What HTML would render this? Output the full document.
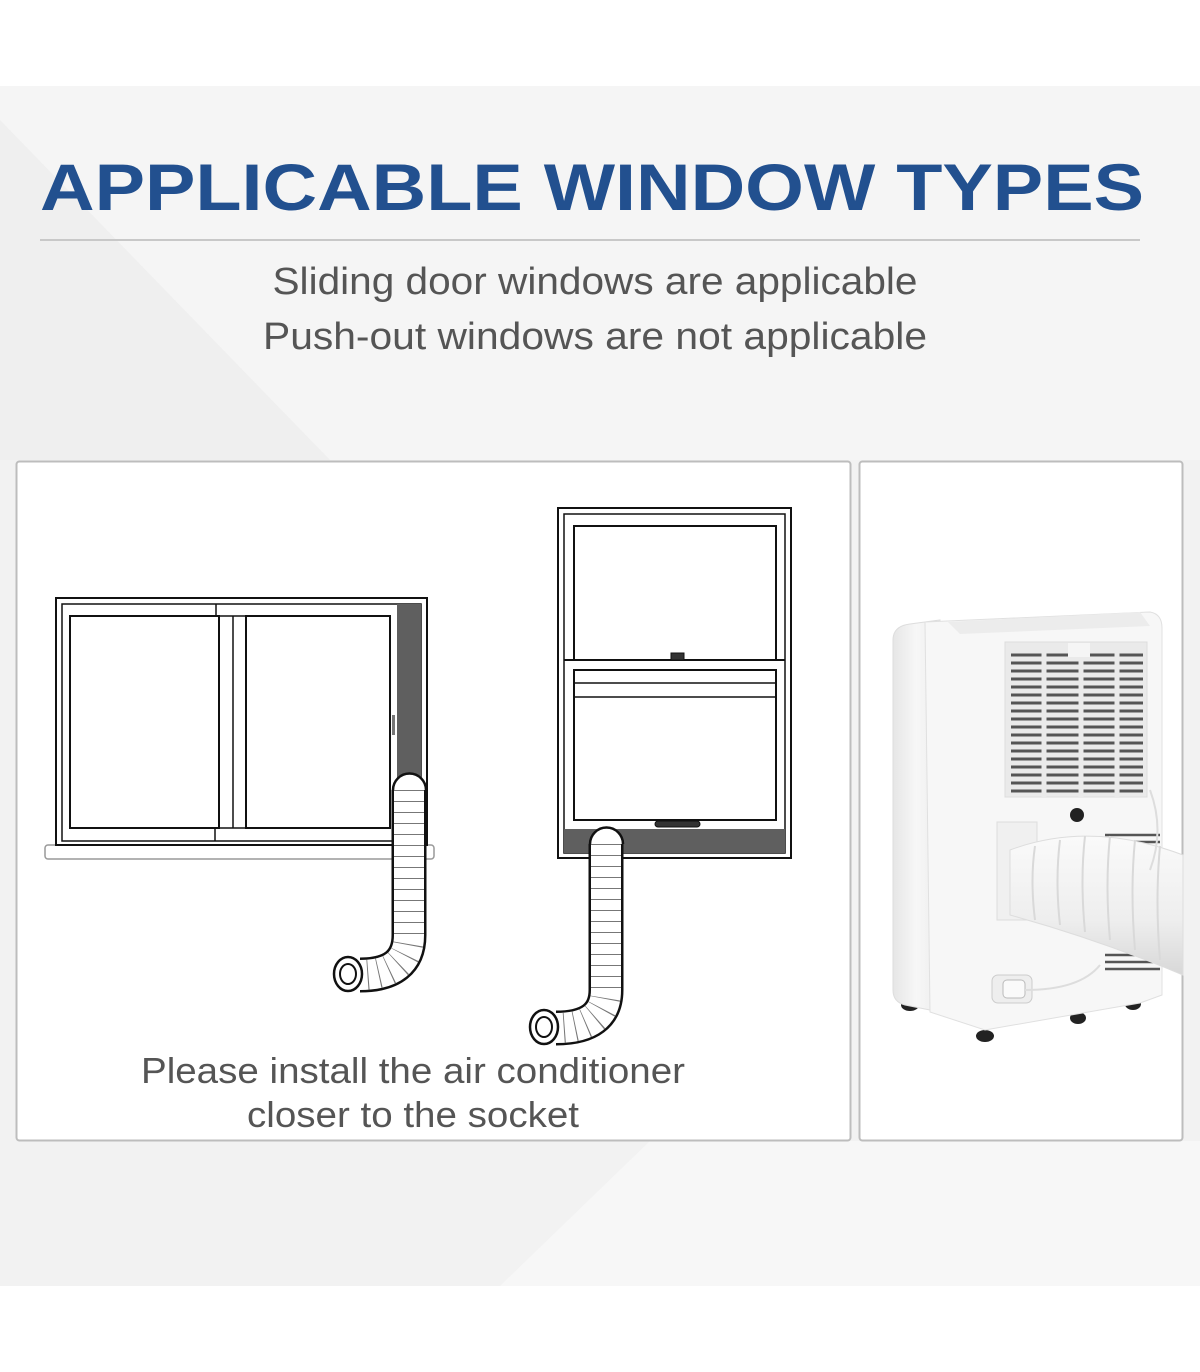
<!DOCTYPE html>
<html><head><meta charset="utf-8"><style>
html,body{margin:0;padding:0;background:#fff}
svg{display:block}
</style></head><body>
<svg width="1200" height="1372" viewBox="0 0 1200 1372" xmlns="http://www.w3.org/2000/svg">
<defs>
<linearGradient id="bg" x1="0" y1="0" x2="1" y2="1">
<stop offset="0" stop-color="#f1f1f1"/><stop offset="0.5" stop-color="#f6f6f6"/><stop offset="1" stop-color="#f0f0f0"/>
</linearGradient>
<linearGradient id="side" x1="0" x2="1"><stop offset="0" stop-color="#e6e6e6"/><stop offset="0.5" stop-color="#f7f7f7"/><stop offset="1" stop-color="#ececec"/></linearGradient>
<linearGradient id="hose" x1="0" y1="0" x2="0" y2="1"><stop offset="0" stop-color="#fafafa"/><stop offset="0.6" stop-color="#eeeeee"/><stop offset="1" stop-color="#d8d8d8"/></linearGradient>
</defs>
<rect x="0" y="86" width="1200" height="1200" fill="#f2f2f2"/>
<polygon points="0,120 330,460 1200,460 1200,86 0,86" fill="#f5f5f5"/>
<polygon points="0,86 0,120 330,460 0,460" fill="#efefef"/>
<polygon points="500,1286 650,1141 1200,1141 1200,1286" fill="#f7f7f7"/>
<text x="592" y="210" text-anchor="middle" font-family="Liberation Sans, sans-serif" font-weight="bold" font-size="66" fill="#22508f" textLength="1104" lengthAdjust="spacingAndGlyphs">APPLICABLE WINDOW TYPES</text>
<line x1="40" y1="240" x2="1140" y2="240" stroke="#c8c8c8" stroke-width="2"/>
<text x="595" y="294" text-anchor="middle" font-family="Liberation Sans, sans-serif" font-size="38" fill="#555" textLength="645" lengthAdjust="spacingAndGlyphs">Sliding door windows are applicable</text>
<text x="595" y="349" text-anchor="middle" font-family="Liberation Sans, sans-serif" font-size="38" fill="#555" textLength="664" lengthAdjust="spacingAndGlyphs">Push-out windows are not applicable</text>

<rect x="16.5" y="461.5" width="834" height="679" rx="3" fill="#fff" stroke="#bdbdbd" stroke-width="2"/>
<rect x="859.5" y="461.5" width="323" height="679" rx="3" fill="#fff" stroke="#bdbdbd" stroke-width="2"/>

<!-- left sliding window -->
<g fill="none" stroke="#111" stroke-width="2">
<rect x="45" y="845" width="389" height="14" rx="3" stroke="#999" stroke-width="1.5" fill="#fff"/>
<rect x="56" y="598" width="371" height="247" fill="#fff"/>
<rect x="62" y="604" width="359" height="237" stroke-width="1.5"/>
<rect x="397" y="604" width="24" height="190" fill="#5f5f5f" stroke="none"/>
<line x1="216" y1="604" x2="216" y2="616" stroke-width="1.5"/>
<line x1="215" y1="828" x2="215" y2="841" stroke-width="1.5"/>
<rect x="70" y="616" width="149" height="212"/>
<rect x="246" y="616" width="144" height="212"/>
<line x1="233" y1="616" x2="233" y2="828" stroke-width="1.5"/>
<rect x="219" y="616" width="27" height="212" stroke-width="1.5"/>
<rect x="392" y="715" width="3" height="20" fill="#777" stroke="none"/>
</g>

<!-- right double hung window -->
<g fill="none" stroke="#111" stroke-width="2">
<rect x="558" y="508" width="233" height="350" fill="#fff"/>
<rect x="564" y="514" width="221" height="339" stroke-width="1.5"/>
<rect x="564" y="829" width="221" height="24" fill="#5f5f5f" stroke="none"/>
<rect x="574" y="526" width="202" height="134"/>
<line x1="564" y1="660" x2="785" y2="660"/>
<rect x="574" y="670" width="202" height="150"/>
<line x1="574" y1="683" x2="776" y2="683" stroke-width="1.5"/>
<line x1="574" y1="697" x2="776" y2="697" stroke-width="1.5"/>
<rect x="671" y="653" width="13" height="7" fill="#333" stroke-width="1"/>
<rect x="655" y="821" width="45" height="6" rx="3" fill="#333" stroke-width="1"/>
</g>

<!-- hoses -->
<g fill="none" stroke-linecap="butt">
<path d="M409,790 L409,935 Q409,975 360,975" stroke="#111" stroke-width="35"/>
<path d="M409,790 L409,935 Q409,975 360,975" stroke="#fff" stroke-width="30"/>
<path d="M409,790 L409,935 Q409,975 360,975" stroke="#777" stroke-width="30" stroke-dasharray="1 10"/>
<path d="M393,790 A16,16 0 0 1 426,790" fill="#fff" stroke="#111" stroke-width="2.5"/>
<ellipse cx="348" cy="974" rx="14" ry="17" fill="#fff" stroke="#111" stroke-width="2.5"/>
<ellipse cx="348" cy="974" rx="8" ry="10" fill="#fff" stroke="#111" stroke-width="2"/>

<path d="M606,844 L606,990 Q606,1028 556,1028" stroke="#111" stroke-width="35"/>
<path d="M606,844 L606,990 Q606,1028 556,1028" stroke="#fff" stroke-width="30"/>
<path d="M606,844 L606,990 Q606,1028 556,1028" stroke="#777" stroke-width="30" stroke-dasharray="1 10"/>
<path d="M590,844 A16,16 0 0 1 623,844" fill="#fff" stroke="#111" stroke-width="2.5"/>
<ellipse cx="544" cy="1027" rx="14" ry="17" fill="#fff" stroke="#111" stroke-width="2.5"/>
<ellipse cx="544" cy="1027" rx="8" ry="10" fill="#fff" stroke="#111" stroke-width="2"/>
</g>

<text x="413" y="1083" text-anchor="middle" font-family="Liberation Sans, sans-serif" font-size="36" fill="#555" textLength="544" lengthAdjust="spacingAndGlyphs">Please install the air conditioner</text>
<text x="413" y="1127" text-anchor="middle" font-family="Liberation Sans, sans-serif" font-size="36" fill="#555" textLength="332" lengthAdjust="spacingAndGlyphs">closer to the socket</text>

<!-- AC unit -->
<g>
<ellipse cx="910" cy="1005" rx="9" ry="6" fill="#222"/>
<ellipse cx="985" cy="1036" rx="9" ry="6" fill="#222"/>
<ellipse cx="1078" cy="1018" rx="8" ry="6" fill="#222"/>
<ellipse cx="1133" cy="1004" rx="8" ry="6" fill="#222"/>
<path d="M893,640 Q893,626 910,624 L940,620 L940,1012 L905,1005 Q893,1002 893,990 Z" fill="url(#side)" stroke="#ddd"/>
<path d="M925,622 L1150,612 Q1162,614 1162,628 L1162,995 L1140,1003 L985,1030 L930,1012 Z" fill="#f7f7f7" stroke="#e0e0e0"/>
<path d="M948,622 L1140,612 L1150,626 L960,634 Z" fill="#ececec"/>
<rect x="1005" y="642" width="142" height="155" fill="#eaeaea" stroke="#ddd"/>
<g stroke="#555" stroke-width="3">
<path d="M1011,655 H1143 M1011,663 H1143 M1011,671 H1143 M1011,679 H1143 M1011,687 H1143 M1011,695 H1143 M1011,703 H1143 M1011,711 H1143 M1011,719 H1143 M1011,727 H1143 M1011,735 H1143 M1011,743 H1143 M1011,751 H1143 M1011,759 H1143 M1011,767 H1143 M1011,775 H1143 M1011,783 H1143 M1011,791 H1143"/>
</g>
<g stroke="#eaeaea" stroke-width="5"><path d="M1044,648 V797 M1081,648 V797 M1117,648 V797"/></g>
<rect x="1068" y="643" width="22" height="14" fill="#f5f5f5"/>
<circle cx="1077" cy="815" r="7" fill="#222"/>
<g stroke="#555" stroke-width="2.5"><path d="M1105,835 H1160 M1105,842 H1160 M1105,849 H1160 M1105,955 H1160 M1105,962 H1160 M1105,969 H1160"/></g>
<rect x="997" y="822" width="40" height="98" fill="#f0f0f0" stroke="#ddd"/>
<path d="M1010,850 Q1090,820 1183,855 L1183,975 Q1100,940 1010,915 Z" fill="url(#hose)" stroke="#ddd"/>
<g stroke="#d9d9d9" stroke-width="2" fill="none">
<path d="M1035,846 Q1030,880 1035,920 M1060,840 Q1055,880 1060,925 M1085,836 Q1080,880 1085,932 M1110,836 Q1105,885 1110,940 M1135,840 Q1130,890 1135,950 M1160,846 Q1155,900 1160,960"/>
</g>
<rect x="992" y="975" width="40" height="28" rx="6" fill="#eee" stroke="#ccc"/>
<rect x="1003" y="980" width="22" height="18" rx="4" fill="#fafafa" stroke="#bbb"/>
<path d="M1025,990 Q1080,990 1100,965" stroke="#ddd" stroke-width="2" fill="none"/>
<path d="M1150,790 Q1165,830 1150,870" stroke="#ddd" stroke-width="2" fill="none"/>
</g>
</svg>
</body></html>
